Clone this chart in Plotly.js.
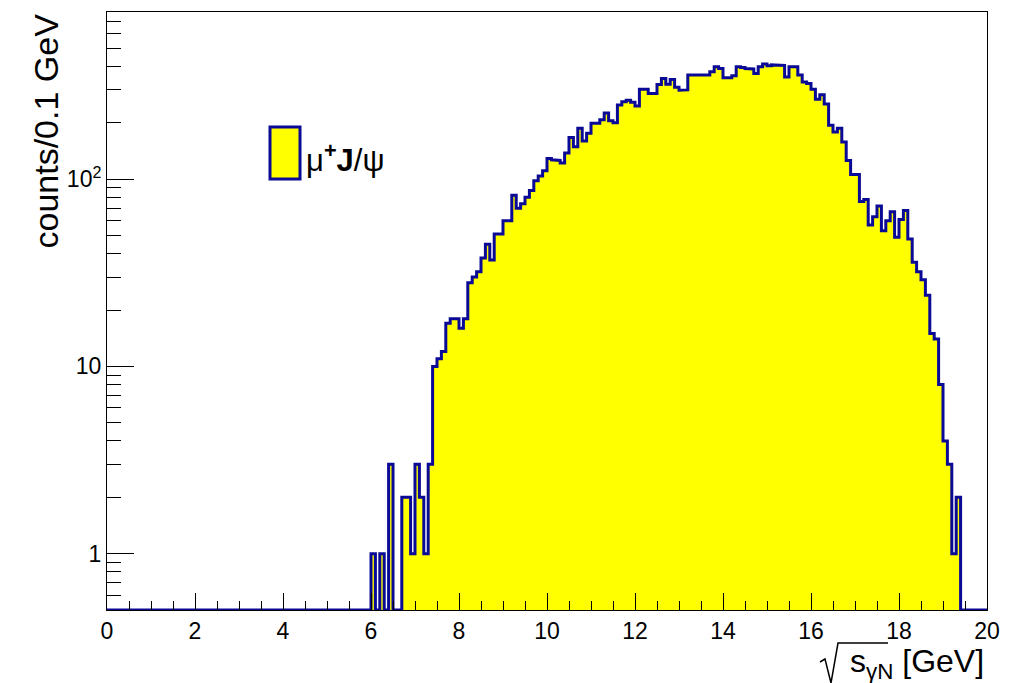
<!DOCTYPE html>
<html>
<head>
<meta charset="utf-8">
<script src="https://cdn.plot.ly/plotly-3.0.1.min.js"></script>
<style>
  html, body { margin: 0; padding: 0; background: #ffffff; }
  #plot { width: 1025px; height: 683px; }
</style>
</head>
<body>
<div id="plot"></div>
<script>
// Histogram binning: 200 bins of 0.1 GeV from 0 to 20 GeV
const binLow = 0;
const binWidth = 0.1;

// Entries per bin, bins 0..199 (rows of 20 bins = 2 GeV each)
const counts00to19   = [0,0,0,0,0,0,0,0,0,0, 0,0,0,0,0,0,0,0,0,0];
const counts20to39   = [0,0,0,0,0,0,0,0,0,0, 0,0,0,0,0,0,0,0,0,0];
const counts40to59   = [0,0,0,0,0,0,0,0,0,0, 0,0,0,0,0,0,0,0,0,0];
const counts60to79   = [1,0,1,0,3,0,0,2,2,1, 3,2,1,3,10,11,12,17,18,18];
const counts80to99   = [16,18,28,30,32,38,45,37,51,51, 60,60,82,70,74,80,87,98,104,111];
const counts100to119 = [129,127,126,122,138,167,149,187,160,176, 199,199,208,226,205,200,249,259,264,258];
const counts120to139 = [246,302,302,287,287,321,345,322,341,310, 299,300,360,357,357,357,360,375,399,390];
const counts140to159 = [348,348,357,399,395,390,388,367,399,412, 404,408,405,405,352,399,399,360,331,325];
const counts160to179 = [302,267,283,252,194,179,187,158,126,106, 106,76,78,57,63,72,53,60,67,49];
const counts180to199 = [61,68,48,36,32,29,24,15,14,8, 4,3,1,2,0,0,0,0,0,0];

const counts = [].concat(counts00to19, counts20to39, counts40to59, counts60to79,
  counts80to99, counts100to119, counts120to139, counts140to159,
  counts160to179, counts180to199);

// Axis ranges
const xRange = [0, 20];
const yMin = 0.5;
const yMax = 782;

// Axis ticks
const xMajorTicks = [0, 2, 4, 6, 8, 10, 12, 14, 16, 18, 20];
const xMinorTicks = [];
for (let v = 0.5; v < 20; v += 0.5) { if (Math.abs(v % 2) > 1e-6) xMinorTicks.push(v); }
const yMajorTicks = [1, 10, 100];
const yMajorLabels = ['1', '10', '10<sup>2</sup>'];
const yMinorTicks = [0.6, 0.7, 0.8, 0.9,
  2, 3, 4, 5, 6, 7, 8, 9,
  20, 30, 40, 50, 60, 70, 80, 90,
  200, 300, 400, 500, 600, 700];

// Step outline of the histogram; empty bins run along the bottom of the frame
const stepX = [binLow];
const stepY = [yMin];
counts.forEach((c, i) => {
  const lo = binLow + i * binWidth;
  const hi = binLow + (i + 1) * binWidth;
  const h = c > 0 ? c : yMin;
  stepX.push(lo, hi);
  stepY.push(h, h);
});
stepX.push(binLow + counts.length * binWidth);
stepY.push(yMin);

const lineBlue = '#0a0a96';
const fillYellow = '#ffff00';
const font = '"Liberation Sans", Arial, Helvetica, sans-serif';

const hist = {
  type: 'scatter',
  mode: 'lines',
  x: stepX,
  y: stepY,
  fill: 'toself',
  fillcolor: fillYellow,
  line: { color: lineBlue, width: 3 },
  hoverinfo: 'skip',
  showlegend: false
};

// Plot frame in pixels (used for placing the legend and the x title)
const W = 1025, H = 683;
const frame = { l: 107, r: 987, t: 12, b: 610 };
const px = x => (x - frame.l) / (frame.r - frame.l);
const py = y => (frame.b - y) / (frame.b - frame.t);

const layout = {
  width: W,
  height: H,
  margin: { l: frame.l, r: W - frame.r, t: frame.t, b: H - frame.b, pad: 0 },
  paper_bgcolor: '#ffffff',
  plot_bgcolor: '#ffffff',
  showlegend: false,
  font: { family: font, color: '#000000' },
  xaxis: {
    range: xRange,
    showgrid: false,
    zeroline: false,
    showline: true,
    mirror: true,
    linecolor: '#000000',
    linewidth: 1,
    ticks: 'inside',
    ticklen: 17,
    tickwidth: 1,
    tickcolor: '#000000',
    tickmode: 'array',
    tickvals: xMajorTicks,
    ticktext: xMajorTicks.map(String),
    tickfont: { family: font, size: 23, color: '#000000' },
    minor: { tickmode: 'array', tickvals: xMinorTicks, ticks: 'inside', ticklen: 9, tickwidth: 1, tickcolor: '#000000', showgrid: false },
    fixedrange: true
  },
  yaxis: {
    type: 'log',
    range: [Math.log10(yMin), Math.log10(yMax)],
    showgrid: false,
    zeroline: false,
    showline: true,
    mirror: true,
    linecolor: '#000000',
    linewidth: 1,
    ticks: 'inside',
    ticklen: 27,
    tickwidth: 1,
    tickcolor: '#000000',
    tickmode: 'array',
    tickvals: yMajorTicks,
    ticktext: yMajorLabels,
    tickfont: { family: font, size: 23, color: '#000000' },
    minor: { tickmode: 'array', tickvals: yMinorTicks, ticks: 'inside', ticklen: 14, tickwidth: 1, tickcolor: '#000000', showgrid: false },
    fixedrange: true
  },
  shapes: [
    // legend swatch
    {
      type: 'rect', xref: 'paper', yref: 'paper',
      x0: px(270), x1: px(300), y0: py(179), y1: py(127),
      fillcolor: fillYellow, line: { color: lineBlue, width: 3 }
    },
    // radical sign of the x-axis title
    {
      type: 'path', xref: 'paper', yref: 'paper',
      path: 'M ' + px(820) + ' ' + py(662) +
            ' L ' + px(825) + ' ' + py(659) +
            ' L ' + px(831) + ' ' + py(683) +
            ' L ' + px(838) + ' ' + py(643) +
            ' L ' + px(888) + ' ' + py(643),
      line: { color: '#000000', width: 1.5 }
    }
  ],
  annotations: [
    {
      xref: 'paper', yref: 'paper',
      x: px(304), y: py(158), xanchor: 'left', yanchor: 'middle',
      text: 'μ<b><sup>+</sup>J</b>/ψ',
      showarrow: false,
      font: { family: font, size: 31, color: '#000000' }
    },
    {
      xref: 'paper', yref: 'paper',
      x: px(45), y: 1, xanchor: 'center', yanchor: 'top',
      text: 'counts/0.1 GeV', textangle: -90,
      showarrow: false,
      font: { family: font, size: 34, color: '#000000' }
    },
    {
      xref: 'paper', yref: 'paper',
      x: px(986), y: py(663), xanchor: 'right', yanchor: 'middle',
      text: 's<sub>γN</sub> [GeV]',
      showarrow: false,
      font: { family: font, size: 32, color: '#000000' }
    }
  ]
};

Plotly.newPlot('plot', [hist], layout, { displayModeBar: false, staticPlot: true });
</script>
</body>
</html>
